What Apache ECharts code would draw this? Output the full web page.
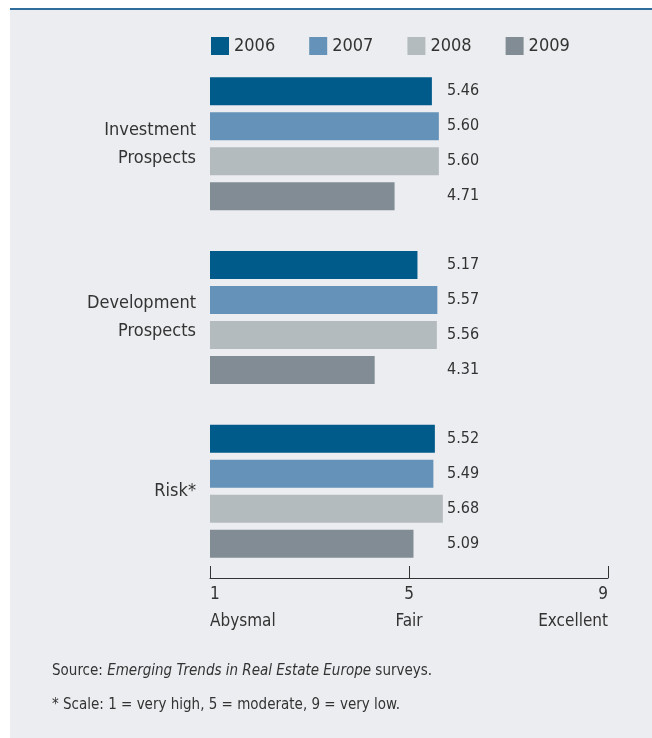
<!DOCTYPE html>
<html>
<head>
<meta charset="utf-8">
<script src="https://cdn.jsdelivr.net/npm/echarts@6/dist/echarts.min.js"></script>
<style>
  html, body { margin: 0; padding: 0; background: #fff; }
  .panel {
    position: absolute; left: 10px; top: 8px; width: 642px; height: 730px;
    background: #ecedf0; border-top: 2px solid #2f6d9c;
  }
  #chart { position: absolute; left: 0; top: 0; width: 652px; height: 738px; }
</style>
</head>
<body>
<div class="panel"></div>
<div id="chart"></div>
<script>
// categories (top to bottom)
const categories = ["Investment\nProspects", "Development\nProspects", "Risk*"];
const years = ["2006", "2007", "2008", "2009"];
const colors = ["#005a8a", "#6592b8", "#b4bbbf", "#818c94"];
// values per year, one per category
const v2006 = [5.46, 5.17, 5.52];
const v2007 = [5.60, 5.57, 5.49];
const v2008 = [5.60, 5.56, 5.68];
const v2009 = [4.71, 4.31, 5.09];
const seriesValues = [v2006, v2007, v2008, v2009];
// x axis scale words
const scaleNames = { 1: "Abysmal", 5: "Fair", 9: "Excellent" };

const font = '"Liberation Sans Narrow", "DejaVu Sans Condensed", "Roboto", sans-serif';
const textColor = "#333";

const chart = echarts.init(document.getElementById("chart"));

const series = years.map((y, i) => ({
  name: y,
  type: "bar",
  data: seriesValues[i],
  barWidth: 28,
  barGap: "25%",
  itemStyle: { color: colors[i] },
  label: {
    show: true,
    position: "insideLeft",
    distance: 237,
    color: textColor,
    fontFamily: font,
    fontSize: 16,
    formatter: p => p.value.toFixed(2)
  }
}));

chart.setOption({
  backgroundColor: "transparent",
  animation: false,
  textStyle: { fontFamily: font },
  legend: {
    top: 32,
    left: 206,
    itemWidth: 18,
    itemHeight: 18,
    itemGap: 34,
    icon: "rect",
    textStyle: { fontFamily: font, fontSize: 18, color: textColor },
    data: years
  },
  grid: { left: 210, right: 44, top: 57, bottom: 160 },
  xAxis: {
    type: "value",
    min: 1,
    max: 9,
    interval: 4,
    splitLine: { show: false },
    axisLine: { show: true, lineStyle: { color: "#333", width: 1 } },
    axisTick: { show: true, inside: true, length: 12, lineStyle: { color: "#333" } },
    axisLabel: {
      margin: 3,
      alignMinLabel: "left",
      alignMaxLabel: "right",
      color: textColor,
      fontFamily: font,
      fontSize: 17,
      lineHeight: 27,
      formatter: v => v + "\n" + (scaleNames[v] || "")
    }
  },
  yAxis: {
    type: "category",
    inverse: true,
    data: categories,
    axisLine: { show: false },
    axisTick: { show: false },
    axisLabel: {
      margin: 14,
      color: textColor,
      fontFamily: font,
      fontSize: 18,
      lineHeight: 28,
      align: "right"
    }
  },
  graphic: [
    {
      type: "text",
      left: 52,
      top: 664,
      style: {
        text: "{n|Source: }{i|Emerging Trends in Real Estate Europe}{n| surveys.}",
        rich: {
          n: { fontFamily: font, fontSize: 15, fill: textColor },
          i: { fontFamily: font, fontSize: 15, fill: textColor, fontStyle: "italic" }
        }
      }
    },
    {
      type: "text",
      left: 52,
      top: 698,
      style: {
        text: "* Scale: 1 = very high, 5 = moderate, 9 = very low.",
        fontFamily: font,
        fontSize: 15,
        fill: textColor
      }
    }
  ],
  series: series
});
</script>
</body>
</html>
